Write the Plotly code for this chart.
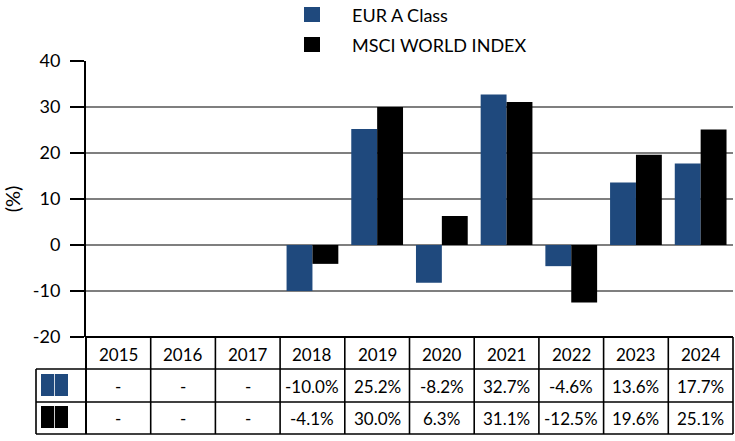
import plotly.graph_objects as go

years = ["2015", "2016", "2017", "2018", "2019", "2020", "2021", "2022", "2023", "2024"]
fund_name = "EUR A Class"
index_name = "MSCI WORLD INDEX"
fund_vals = [None, None, None, -10.0, 25.2, -8.2, 32.7, -4.6, 13.6, 17.7]
index_vals = [None, None, None, -4.1, 30.0, 6.3, 31.1, -12.5, 19.6, 25.1]
y_ticks = [-20, -10, 0, 10, 20, 30, 40]
y_tick_labels = ["-20", "-10", "0", "10", "20", "30", "40"]

BLUE = "#1F497D"
BLACK = "#000000"
FONT = "Lato"

W, H = 735, 441
L, R, T, B = 86, 2, 61, 104
PW, PH = W - L - R, H - T - B


def px2x(px):
    return (px - L) / PW


def px2y(py):
    return (H - B - py) / PH


fig = go.Figure()
fig.add_trace(go.Bar(x=years, y=fund_vals, name=fund_name, marker_color=BLUE, marker_line_width=0))
fig.add_trace(go.Bar(x=years, y=index_vals, name=index_name, marker_color=BLACK, marker_line_width=0))

shapes = []
annotations = []

# table horizontal lines
row_lines = [369, 402, 434]
for py in row_lines:
    shapes.append(dict(type="line", xref="paper", yref="paper", x0=px2x(36), x1=px2x(L + PW),
                       y0=px2y(py), y1=px2y(py), line=dict(color=BLACK, width=1.6)))
# top border of table (bottom of plot)
shapes.append(dict(type="line", xref="paper", yref="paper", x0=0, x1=1,
                   y0=0, y1=0, line=dict(color=BLACK, width=2)))
# vertical lines
n = len(years)
for i in range(n + 1):
    shapes.append(dict(type="line", xref="paper", yref="paper", x0=i / n, x1=i / n,
                       y0=0, y1=px2y(434), line=dict(color=BLACK, width=1.6 if i else 2)))
shapes.append(dict(type="line", xref="paper", yref="paper", x0=px2x(36), x1=px2x(36),
                   y0=px2y(369), y1=px2y(434), line=dict(color=BLACK, width=1.6)))

# table swatches
for color, (y0, y1) in [(BLUE, (374, 396)), (BLACK, (406, 428))]:
    shapes.append(dict(type="rect", xref="paper", yref="paper", x0=px2x(41), x1=px2x(68),
                       y0=px2y(y1), y1=px2y(y0), fillcolor=color, line=dict(width=0)))
    shapes.append(dict(type="line", xref="paper", yref="paper", x0=px2x(54.5), x1=px2x(54.5),
                       y0=px2y(y1), y1=px2y(y0), line=dict(color="#ffffff", width=0.8)))

# legend swatches
for color, (y0, y1) in [(BLUE, (7, 22)), (BLACK, (37, 52))]:
    shapes.append(dict(type="rect", xref="paper", yref="paper", x0=px2x(304), x1=px2x(320),
                       y0=px2y(y1), y1=px2y(y0), fillcolor=color, line=dict(width=0)))
for name, py in [(fund_name, 15), (index_name, 44.5)]:
    annotations.append(dict(text=name, xref="paper", yref="paper", x=px2x(350), y=px2y(py),
                            xanchor="left", yanchor="middle", showarrow=False,
                            font=dict(family=FONT, size=18, color=BLACK)))


def fmt(v):
    return "-" if v is None else f"{v:.1f}%"


TF = dict(family=FONT, size=17, color=BLACK)
for i, yr in enumerate(years):
    annotations.append(dict(text=yr, xref="x", yref="paper", x=i, y=px2y(354),
                            xanchor="center", yanchor="middle", showarrow=False, font=TF))
    annotations.append(dict(text=fmt(fund_vals[i]), xref="x", yref="paper", x=i, y=px2y(386),
                            xanchor="center", yanchor="middle", showarrow=False, font=TF))
    annotations.append(dict(text=fmt(index_vals[i]), xref="x", yref="paper", x=i, y=px2y(418.5),
                            xanchor="center", yanchor="middle", showarrow=False, font=TF))

fig.update_layout(
    width=W, height=H,
    margin=dict(l=L, r=R, t=T, b=B, autoexpand=False),
    paper_bgcolor="white", plot_bgcolor="white",
    barmode="group", bargap=0.2, bargroupgap=0,
    showlegend=False,
    shapes=shapes, annotations=annotations,
    font=dict(family=FONT, size=17, color=BLACK),
)
fig.update_xaxes(type="category", showticklabels=False, showgrid=False, ticks="",
                 range=[-0.5, n - 0.5], showline=False, zeroline=False, automargin=False)
fig.update_yaxes(range=[-20, 40], tickvals=y_ticks, ticktext=y_tick_labels,
                 showgrid=True, gridcolor="#7f7f7f", gridwidth=1.5,
                 zeroline=False, showline=True, linecolor=BLACK, linewidth=2,
                 ticks="outside", ticklen=14, tickwidth=2, tickcolor=BLACK,
                 ticklabelstandoff=6, automargin=False,
                 tickfont=dict(family=FONT, size=18, color=BLACK),
                 title=dict(text="(%)", standoff=24, font=dict(family=FONT, size=20, color=BLACK)))

fig.write_html("out.html", config={"displayModeBar": False},
               post_script="document.body.style.margin='0';document.body.style.padding='0';")
